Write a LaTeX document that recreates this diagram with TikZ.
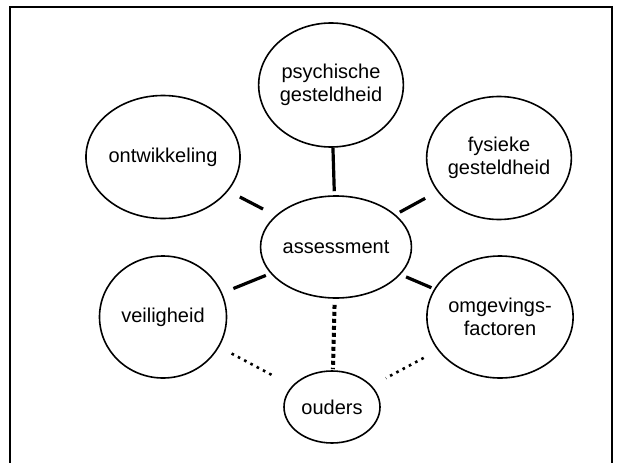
\documentclass[tikz,border=0pt]{standalone}
\usepackage{fontspec}
\setmainfont{Liberation Sans}
\usetikzlibrary{shapes.geometric}
\begin{document}
\begin{tikzpicture}[x=1pt,y=-1pt,
  bub/.style={ellipse,draw=black,line width=1.6pt,inner sep=0pt,align=center,
    font=\fontsize{20}{23}\selectfont},
  solidlink/.style={line width=3.2pt},
  dashlink/.style={line width=4pt,dash pattern=on 4pt off 3pt},
  dotlink/.style={line width=2.6pt,dash pattern=on 2.6pt off 4.5pt}]
\useasboundingbox (0,0) rectangle (621,463);
\draw[line width=1.4pt] (10,480) -- (10,7) -- (612,7) -- (612,480);
\node[bub,minimum width=133pt,minimum height=124pt] (psy) at (331,85) {psychische\\gesteldheid};
\node[bub,minimum width=127pt,minimum height=123pt] (ont) at (163,157) {ontwikkeling};
\node[bub,minimum width=126pt,minimum height=123pt] (fys) at (499,158) {fysieke\\gesteldheid};
\node[bub,minimum width=122pt,minimum height=102pt] (ass) at (336,247) {assessment};
\node[bub,minimum width=127pt,minimum height=122pt] (vei) at (163,317) {veiligheid};
\node[bub,minimum width=126pt,minimum height=122pt] (omg) at (500,317) {omgevings-\\factoren};
\node[bub,minimum width=96pt,minimum height=72pt] (oud) at (332,407) {ouders};
\draw[solidlink,shorten >=4pt] (psy) -- (ass);
\draw[solidlink,shorten <=13pt,shorten >=14pt] (ont) -- (ass);
\draw[solidlink,shorten <=14pt,shorten >=5pt] (fys) -- (ass);
\draw[solidlink,shorten <=12pt,shorten >=5pt] (vei) -- (ass);
\draw[solidlink,shorten <=3pt,shorten >=6pt] (omg) -- (ass);
\draw[dashlink,shorten <=6pt,shorten >=1pt] (ass) -- (oud);
\draw[dotlink,shorten <=14pt,shorten >=19pt] (vei) -- (oud);
\draw[dotlink,shorten <=16pt,shorten >=16pt] (omg) -- (oud);
\end{tikzpicture}
\end{document}
